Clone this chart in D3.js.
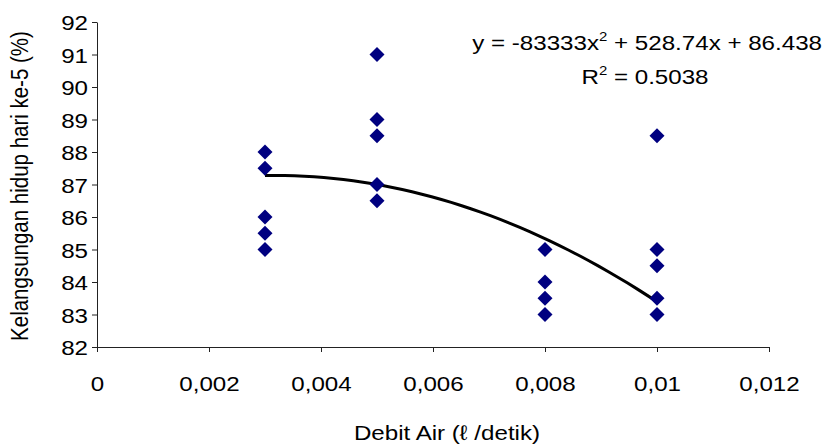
<!DOCTYPE html>
<html><head><meta charset="utf-8">
<script src="https://cdn.jsdelivr.net/npm/d3@7/dist/d3.min.js"></script>
<style>body{margin:0;background:#fff}text{font-family:"Liberation Sans",Arial,sans-serif}</style>
</head><body>
<svg id="c" width="824" height="446"></svg>
<script>
const xValues = [0.003,0.003,0.003,0.003,0.003, 0.005,0.005,0.005,0.005,0.005, 0.008,0.008,0.008,0.008, 0.01,0.01,0.01,0.01,0.01];
const yValues = [88,87.5,86,85.5,85, 91,89,88.5,87,86.5, 85,84,83.5,83, 88.5,85,84.5,83.5,83];
const xTicks = [0,0.002,0.004,0.006,0.008,0.01,0.012];
const xTickLabels = ["0","0,002","0,004","0,006","0,008","0,01","0,012"];
const yTicks = [82,83,84,85,86,87,88,89,90,91,92];
const trendCoef = [-83333, 528.74, 86.438]; // a, b, c from chart equation
const trendRange = [0.003, 0.01];

const FS = 21, SX = 1.15;
const svg = d3.select("#c");
const x = d3.scaleLinear().domain([0,0.012]).range([97,769]);
const y = d3.scaleLinear().domain([82,92]).range([347,22]);

const xAxis = svg.append("g").attr("transform","translate(0,347)")
  .call(d3.axisBottom(x).tickValues(xTicks).tickFormat((d,i)=>xTickLabels[i]).tickSize(5).tickSizeOuter(0));
const yAxis = svg.append("g").attr("transform","translate(97,0)")
  .call(d3.axisLeft(y).tickValues(yTicks).tickSize(5).tickSizeOuter(0));
[xAxis,yAxis].forEach(g=>{
  g.select(".domain").attr("stroke","#222");
  g.selectAll(".tick line").attr("stroke","#222");
  g.selectAll(".tick text").attr("font-size",FS).attr("fill","#000")
   .attr("font-family","Liberation Sans, Arial, sans-serif");
});
xAxis.selectAll(".tick text").attr("dy","0").attr("y",0)
  .attr("transform",`translate(0,44) scale(${SX},1)`);
yAxis.selectAll(".tick text").attr("x",0).attr("dy","0.36em")
  .attr("transform",`translate(-9,0) scale(${SX},1)`);

// trend line
const n = 40;
const trend = d3.range(n+1).map(i=>{
  const xv = trendRange[0] + (trendRange[1]-trendRange[0])*i/n;
  return [xv, trendCoef[0]*xv*xv + trendCoef[1]*xv + trendCoef[2]];
});
svg.append("path").datum(trend)
  .attr("d", d3.line().x(d=>x(d[0])).y(d=>y(d[1])))
  .attr("fill","none").attr("stroke","#000").attr("stroke-width",3);

// points
const r = 7.5;
svg.append("g").selectAll("path").data(xValues.map((v,i)=>[v,yValues[i]])).join("path")
  .attr("d", d=>{const cx=x(d[0]), cy=y(d[1]);return `M${cx},${cy-r}L${cx+r},${cy}L${cx},${cy+r}L${cx-r},${cy}Z`;})
  .attr("fill","#000080");

// equation
const eq = svg.append("text").attr("transform",`translate(822,50) scale(${SX},1)`).attr("text-anchor","end").attr("font-size",FS);
eq.append("tspan").text("y = -83333x");
eq.append("tspan").attr("dy",-9).attr("font-size",13).text("2");
eq.append("tspan").attr("dy",9).text(" + 528.74x + 86.438");
const r2 = svg.append("text").attr("transform",`translate(645,84) scale(${SX},1)`).attr("text-anchor","middle").attr("font-size",FS);
r2.append("tspan").text("R");
r2.append("tspan").attr("dy",-9).attr("font-size",13).text("2");
r2.append("tspan").attr("dy",9).text(" = 0.5038");

// axis titles
svg.append("text").attr("transform",`translate(447,440) scale(${SX},1)`).attr("text-anchor","middle").attr("font-size",FS).text("Debit Air (ℓ /detik)");
svg.append("text").attr("transform",`translate(28,186) scale(${SX},1) rotate(-90)`).attr("text-anchor","middle").attr("font-size",20.5).text("Kelangsungan hidup hari ke-5 (%)");
</script>
</body></html>
